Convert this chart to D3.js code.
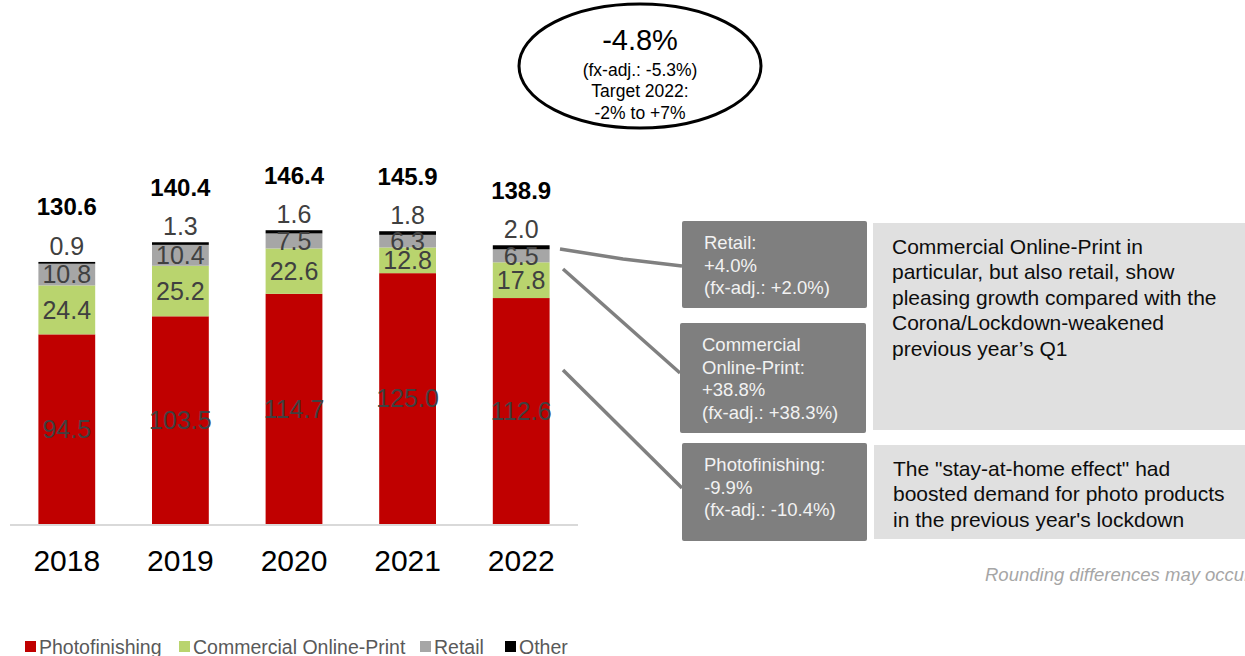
<!DOCTYPE html>
<html>
<head>
<meta charset="utf-8">
<script src="https://cdn.jsdelivr.net/npm/d3@7"></script>
<style>
  html, body { margin: 0; padding: 0; background: #fff; }
  svg { display: block; font-family: "Liberation Sans", Arial, sans-serif; }
</style>
</head>
<body>
<svg id="chart" width="1245" height="656"></svg>
<script>
// Revenue by segment, Q1 of each year (EUR m)
const years = ["2018", "2019", "2020", "2021", "2022"];
const photofinishing = [94.5, 103.5, 114.7, 125.0, 112.6];
const commercialOnlinePrint = [24.4, 25.2, 22.6, 12.8, 17.8];
const retail = [10.8, 10.4, 7.5, 6.3, 6.5];
const other = [0.9, 1.3, 1.6, 1.8, 2.0];
const totals = [130.6, 140.4, 146.4, 145.9, 138.9];

const seriesNames = ["Photofinishing", "Commercial Online-Print", "Retail", "Other"];
const seriesColors = ["#c00000", "#b9d46e", "#a6a6a6", "#000000"];

// Growth callouts for the latest year
const calloutTexts = [
  ["Retail:", "+4.0%", "(fx-adj.: +2.0%)"],
  ["Commercial", "Online-Print:", "+38.8%", "(fx-adj.: +38.3%)"],
  ["Photofinishing:", "-9.9%", "(fx-adj.: -10.4%)"]
];
const noteTexts = [
  ["Commercial Online-Print in", "particular, but also retail, show", "pleasing growth compared with the", "Corona/Lockdown-weakened", "previous year\u2019s Q1"],
  ["The \"stay-at-home effect\" had", "boosted demand for photo products", "in the previous year's lockdown"]
];
const bubbleTexts = ["-4.8%", "(fx-adj.: -5.3%)", "Target 2022:", "-2% to +7%"];

const svg = d3.select("#chart");

const rows = years.map((y, i) => ({
  year: y,
  Photofinishing: photofinishing[i],
  "Commercial Online-Print": commercialOnlinePrint[i],
  Retail: retail[i],
  Other: other[i],
  total: totals[i]
}));

const x = d3.scaleBand().domain(years).range([10, 578]).paddingInner(0.5).paddingOuter(0.25);
const y = d3.scaleLinear().domain([0, 150]).range([524, 223]);
const color = d3.scaleOrdinal().domain(seriesNames).range(seriesColors);

const stacked = d3.stack().keys(seriesNames)(rows);

// Baseline
svg.append("line")
  .attr("x1", 10).attr("x2", 578)
  .attr("y1", y(0) + 1).attr("y2", y(0) + 1)
  .attr("stroke", "#d9d9d9").attr("stroke-width", 2);

// Stacked bars
const layers = svg.append("g").selectAll("g")
  .data(stacked).join("g")
  .attr("fill", d => color(d.key));

layers.selectAll("rect")
  .data(d => d.map(p => ({ key: d.key, p })))
  .join("rect")
  .attr("x", d => x(d.p.data.year))
  .attr("width", x.bandwidth())
  .attr("y", d => y(d.p[1]))
  .attr("height", d => y(d.p[0]) - y(d.p[1]));

// Segment labels (inside segments)
const inside = ["Photofinishing", "Commercial Online-Print", "Retail"];
stacked.filter(s => inside.includes(s.key)).forEach(s => {
  svg.append("g").selectAll("text")
    .data(s).join("text")
    .attr("x", d => x(d.data.year) + x.bandwidth() / 2)
    .attr("y", d => (y(d[0]) + y(d[1])) / 2)
    .attr("dy", "0.35em")
    .attr("text-anchor", "middle")
    .attr("font-size", 25)
    .attr("fill", "#404040")
    .text(d => d.data[s.key].toFixed(1));
});

// "Other" labels above each bar
const otherLayer = stacked.find(s => s.key === "Other");
svg.append("g").selectAll("text")
  .data(otherLayer).join("text")
  .attr("x", d => x(d.data.year) + x.bandwidth() / 2)
  .attr("y", d => y(d[1]) - 16)
  .attr("dy", "0.35em")
  .attr("text-anchor", "middle")
  .attr("font-size", 25)
  .attr("fill", "#404040")
  .text(d => d.data.Other.toFixed(1));

// Totals
svg.append("g").selectAll("text")
  .data(rows).join("text")
  .attr("x", d => x(d.year) + x.bandwidth() / 2)
  .attr("y", d => y(d.total) - 55)
  .attr("dy", "0.35em")
  .attr("text-anchor", "middle")
  .attr("font-size", 24)
  .attr("font-weight", "bold")
  .attr("fill", "#000")
  .text(d => d.total.toFixed(1));

// Category axis
const xAxis = svg.append("g")
  .attr("transform", `translate(0,${y(0)})`)
  .call(d3.axisBottom(x).tickSize(0).tickPadding(26));
xAxis.select(".domain").remove();
xAxis.selectAll("text")
  .attr("font-size", 30)
  .attr("font-family", "\"Liberation Sans\", Arial, sans-serif")
  .attr("fill", "#000");

// Legend
const legendPos = [25, 179, 420, 505];
const legend = svg.append("g");
seriesNames.forEach((name, i) => {
  const g = legend.append("g").attr("transform", `translate(${legendPos[i]},641)`);
  g.append("rect").attr("width", 11).attr("height", 11).attr("fill", color(name));
  g.append("text").attr("x", 14).attr("y", 12.5)
    .attr("font-size", 19.5).attr("fill", "#595959").text(name);
});

// Growth bubble
const bubble = svg.append("g").attr("transform", "translate(640,66)");
bubble.append("ellipse").attr("rx", 121).attr("ry", 62)
  .attr("fill", "#fff").attr("stroke", "#000").attr("stroke-width", 3);
bubble.append("text").attr("y", -26).attr("dy", "0.35em").attr("text-anchor", "middle")
  .attr("font-size", 29).attr("fill", "#000").text(bubbleTexts[0]);
[4, 25, 47].forEach((dy, i) => {
  bubble.append("text").attr("y", dy).attr("dy", "0.35em").attr("text-anchor", "middle")
    .attr("font-size", 17.5).attr("fill", "#000").text(bubbleTexts[i + 1]);
});

// Connectors from the latest bar to the callouts
const connectors = [
  [[560, 249], [623, 259], [682, 266]],
  [[563, 269], [680, 373]],
  [[563, 370], [682, 488]]
];
svg.append("g").selectAll("path")
  .data(connectors).join("path")
  .attr("d", d3.line())
  .attr("fill", "none").attr("stroke", "#808080").attr("stroke-width", 3.5);

// Callout boxes
const calloutBoxes = [
  { x: 682, y: 221, w: 185, h: 87 },
  { x: 680, y: 323, w: 186, h: 110 },
  { x: 682, y: 443, w: 185, h: 98 }
];
calloutBoxes.forEach((b, i) => {
  svg.append("rect").attr("x", b.x).attr("y", b.y).attr("width", b.w).attr("height", b.h)
    .attr("rx", 2).attr("fill", "#7f7f7f");
  calloutTexts[i].forEach((t, j) => {
    svg.append("text").attr("x", b.x + 22).attr("y", b.y + 22 + j * 22.5)
      .attr("dy", "0.35em").attr("font-size", 18.5).attr("fill", "#f2f2f2").text(t);
  });
});

// Commentary panels
const notePanels = [
  { x: 873, y: 223, w: 372, h: 207 },
  { x: 874, y: 445, w: 371, h: 94 }
];
notePanels.forEach((p, i) => {
  svg.append("rect").attr("x", p.x).attr("y", p.y).attr("width", p.w).attr("height", p.h)
    .attr("fill", "#e0e0e0");
  noteTexts[i].forEach((t, j) => {
    svg.append("text").attr("x", p.x + 19).attr("y", p.y + 23.5 + j * 25.5)
      .attr("dy", "0.35em").attr("font-size", 21).attr("fill", "#0d0d0d").text(t);
  });
});

// Footnote
svg.append("text").attr("x", 985).attr("y", 575).attr("dy", "0.35em")
  .attr("font-size", 18.5).attr("font-style", "italic").attr("fill", "#a6a6a6")
  .text("Rounding differences may occur");
</script>
</body>
</html>
